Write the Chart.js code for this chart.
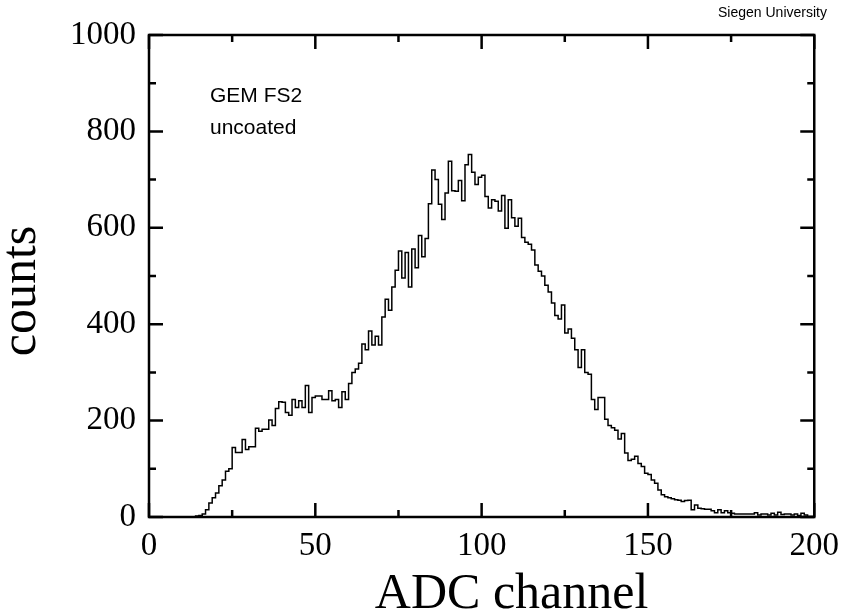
<!DOCTYPE html>
<html>
<head>
<meta charset="utf-8">
<script src="https://cdn.jsdelivr.net/npm/chart.js@4.4.0/dist/chart.umd.min.js"></script>
<style>
html, body { margin: 0; padding: 0; background: #fff; }
</style>
</head>
<body>
<canvas id="adc-chart" width="849" height="613"></canvas>
<script>
// counts per ADC channel, channels 0..199
const counts = [
  0, 0, 0, 0, 0, 0, 0, 0, 0, 0, 0, 0, 0, 0, 0, 2, 3, 6, 15, 29,
  40, 50, 65, 77, 95, 100, 144, 134, 134, 161, 140, 146, 146, 184, 178, 182, 182, 201, 190, 225,
  239, 238, 217, 211, 244, 227, 241, 227, 273, 217, 248, 251, 251, 244, 244, 262, 241, 244, 227, 260,
  244, 277, 300, 307, 319, 359, 347, 386, 357, 375, 357, 415, 452, 429, 477, 512, 552, 496, 549, 477,
  556, 517, 584, 540, 578, 650, 720, 700, 649, 617, 672, 738, 677, 676, 698, 656, 731, 752, 715, 690,
  705, 709, 665, 641, 658, 655, 635, 667, 599, 658, 621, 603, 620, 580, 570, 566, 554, 523, 510, 500,
  481, 467, 444, 418, 411, 440, 382, 390, 371, 347, 310, 347, 300, 296, 244, 223, 248, 248, 203, 190,
  185, 180, 162, 173, 133, 117, 120, 126, 111, 105, 91, 88, 77, 70, 56, 46, 42, 40, 38, 36,
  35, 32, 34, 35, 15, 25, 18, 17, 16, 16, 13, 9, 15, 9, 13, 9, 8, 6, 6, 6,
  6, 6, 6, 9, 4, 6, 6, 4, 8, 4, 10, 5, 6, 6, 4, 6, 3, 8, 4, 1
];
const xTicks = [0, 50, 100, 150, 200];
const xMinor = [25, 75, 125, 175];
const yTicks = [0, 200, 400, 600, 800, 1000];
const yMinor = [100, 300, 500, 700, 900];
const xTitle = 'ADC channel';
const yTitle = 'counts';
const notes = ['GEM FS2', 'uncoated'];
const credit = 'Siegen University';

const serif = '"Liberation Serif", "Times New Roman", serif';
const sans = '"Liberation Sans", Arial, sans-serif';

function histPoints() {
    // one point per bin left edge, plus closing edge
    const pts = counts.map((v, i) => ({ x: i, y: v }));
    pts.push({ x: counts.length, y: counts[counts.length - 1] });
    return pts;
}

const frameTicks = {
    id: 'frameTicks',
    afterDraw(chart) {
        const { ctx, chartArea: a, scales: { x, y } } = chart;
        ctx.save();
        ctx.strokeStyle = '#000';
        ctx.lineWidth = 2.5;
        ctx.strokeRect(a.left, a.top, a.right - a.left, a.bottom - a.top);
        ctx.beginPath();
        const xt = (v, len) => {
            const px = x.getPixelForValue(v);
            ctx.moveTo(px, a.bottom); ctx.lineTo(px, a.bottom - len);
            ctx.moveTo(px, a.top); ctx.lineTo(px, a.top + len);
        };
        const yt = (v, len) => {
            const py = y.getPixelForValue(v);
            ctx.moveTo(a.left, py); ctx.lineTo(a.left + len, py);
            ctx.moveTo(a.right, py); ctx.lineTo(a.right - len, py);
        };
        xTicks.forEach(v => xt(v, 14));
        xMinor.forEach(v => xt(v, 7));
        yTicks.forEach(v => yt(v, 14));
        yMinor.forEach(v => yt(v, 7));
        ctx.stroke();

        ctx.fillStyle = '#000';
        ctx.textBaseline = 'alphabetic';
        // axis titles sit off-centre, like the original
        ctx.font = '50px ' + serif;
        ctx.textAlign = 'center';
        ctx.fillText(xTitle, (a.left + a.right) / 2 + 30, 608);
        ctx.save();
        ctx.translate(35, (a.top + a.bottom) / 2 + 15);
        ctx.rotate(-Math.PI / 2);
        ctx.fillText(yTitle, 0, 0);
        ctx.restore();

        ctx.textAlign = 'left';
        ctx.font = '21px ' + sans;
        ctx.fillText(notes[0], 210, 102);
        ctx.fillText(notes[1], 210, 134);
        ctx.font = '14px ' + sans;
        ctx.fillText(credit, 718, 17);
        ctx.restore();
    }
};

function buildADCChart() {
    const ctx = document.getElementById('adc-chart').getContext('2d');
    return new Chart(ctx, {
        type: 'line',
        data: {
            datasets: [{
                label: 'counts',
                data: histPoints(),
                stepped: 'after',
                borderColor: '#000',
                borderWidth: 1.5,
                pointRadius: 0,
                fill: false
            }]
        },
        options: {
            responsive: false,
            animation: false,
            layout: { padding: { top: 35, right: 32, left: 0, bottom: 0 } },
            plugins: { legend: { display: false }, tooltip: { enabled: false } },
            scales: {
                x: {
                    type: 'linear',
                    min: 0,
                    max: 200,
                    afterBuildTicks: s => { s.ticks = xTicks.map(v => ({ value: v })); },
                    afterFit: s => { s.height = 96; },
                    grid: { display: false, drawTicks: false },
                    border: { display: false },
                    ticks: { color: '#000', padding: 10, maxRotation: 0,
                             callback: v => String(v), font: { family: serif, size: 33 } }
                },
                y: {
                    min: 0,
                    max: 1000,
                    afterBuildTicks: s => { s.ticks = yTicks.map(v => ({ value: v })); },
                    afterFit: s => { s.width = 149; },
                    grid: { display: false, drawTicks: false },
                    border: { display: false },
                    ticks: { color: '#000', padding: 13,
                             callback: v => String(v), font: { family: serif, size: 33 } }
                }
            }
        },
        plugins: [frameTicks]
    });
}

document.addEventListener('DOMContentLoaded', buildADCChart);
</script>
</body>
</html>
